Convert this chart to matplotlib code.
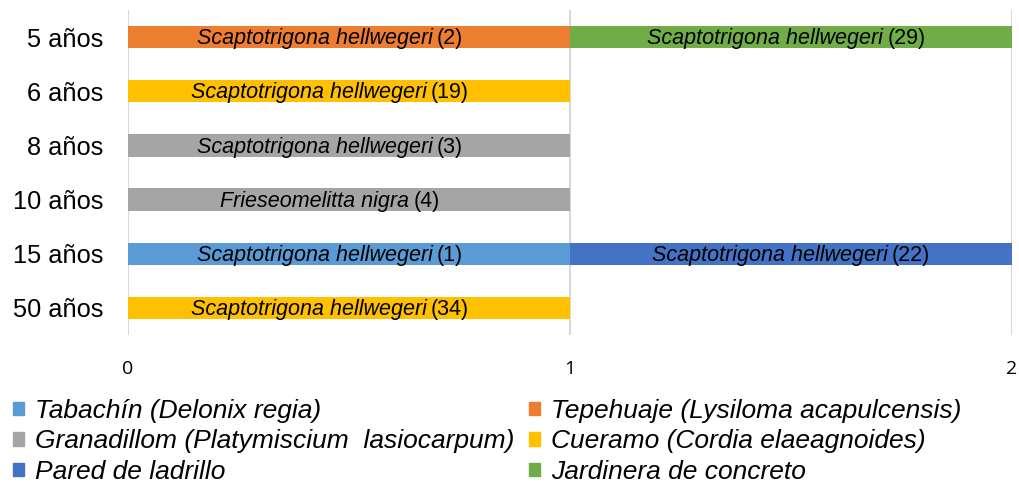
import matplotlib
matplotlib.use("Agg")
import matplotlib.pyplot as plt
from matplotlib.offsetbox import TextArea, HPacker, AnnotationBbox
from matplotlib.patches import Patch
import numpy as np

categories = ["5 años", "6 años", "8 años", "10 años", "15 años", "50 años"]
series_names = ["Tabachín (Delonix regia)", "Tepehuaje (Lysiloma acapulcensis)",
                "Granadillom (Platymiscium  lasiocarpum)", "Cueramo (Cordia elaeagnoides)",
                "Pared de ladrillo", "Jardinera de concreto"]
tabachin = [0, 0, 0, 0, 1, 0]
tepehuaje = [1, 0, 0, 0, 0, 0]
granadillom = [0, 0, 1, 1, 0, 0]
cueramo = [0, 1, 0, 0, 0, 1]
pared = [0, 0, 0, 0, 1, 0]
jardinera = [1, 0, 0, 0, 0, 0]
series_values = [tabachin, tepehuaje, granadillom, cueramo, pared, jardinera]
colors = ["#5B9BD5", "#ED7D31", "#A5A5A5", "#FFC000", "#4472C4", "#70AD47"]

# labels per (series index, category index): species, count
label_species = {
    (1, 0): "Scaptotrigona hellwegeri", (5, 0): "Scaptotrigona hellwegeri",
    (3, 1): "Scaptotrigona hellwegeri", (2, 2): "Scaptotrigona hellwegeri",
    (2, 3): "Frieseomelitta nigra", (0, 4): "Scaptotrigona hellwegeri",
    (4, 4): "Scaptotrigona hellwegeri", (3, 5): "Scaptotrigona hellwegeri",
}
label_counts = {
    (1, 0): 2, (5, 0): 29, (3, 1): 19, (2, 2): 3,
    (2, 3): 4, (0, 4): 1, (4, 4): 22, (3, 5): 34,
}
# horizontal position of label within bar (fraction of bar width)
label_pos = {
    (1, 0): 0.457, (5, 0): 0.49, (3, 1): 0.457, (2, 2): 0.457,
    (2, 3): 0.457, (0, 4): 0.457, (4, 4): 0.5, (3, 5): 0.457,
}

W, H = 1019, 491
fig = plt.figure(figsize=(W / 100, H / 100), dpi=100)
ax = fig.add_axes([128 / W, 1 - 335 / H, (1012 - 128) / W, (335 - 10) / H])

font = "Liberation Sans"
y = np.arange(len(categories))
left = np.zeros(len(categories))
bars = []
for vals, col in zip(series_values, colors):
    vals = np.array(vals, dtype=float)
    b = ax.barh(y, vals, left=left, height=0.41, color=col, zorder=2)
    bars.append((b, left.copy(), vals))
    left = left + vals

for (si, ci), sp in label_species.items():
    b, lft, vals = bars[si]
    xc = lft[ci] + vals[ci] * label_pos[(si, ci)]
    t1 = TextArea(sp, textprops=dict(fontstyle="italic", fontsize=15.5, family=font, color="#000000"))
    t2 = TextArea(f"({label_counts[(si, ci)]})", textprops=dict(fontsize=15.5, family=font, color="#000000"))
    pk = HPacker(children=[t1, t2], sep=3, pad=0, align="baseline")
    ab = AnnotationBbox(pk, (xc, y[ci]), xycoords="data", frameon=False,
                        box_alignment=(0.5, 0.58), pad=0, zorder=3)
    ax.add_artist(ab)

ax.set_xlim(0, 2)
ax.set_ylim(len(categories) - 0.5, -0.5)
ax.set_xticks([0, 1, 2])
ax.set_yticks(y)
ax.set_yticklabels(categories, fontsize=18.3, family=font, color="#000000")
ax.tick_params(axis="y", length=0, pad=18)
ax.tick_params(axis="x", length=0, pad=18, labelsize=14, colors="#000000")
for lab in ax.get_xticklabels():
    lab.set_family("Open Sans")
ax.grid(axis="x", color="#D9D9D9", linewidth=1.5, zorder=0)
for s in ax.spines.values():
    s.set_visible(False)

handles = [Patch(color=c) for c in colors]
leg_kw = dict(frameon=False, handlelength=0.4, handleheight=0.4, handletextpad=0.45,
              labelspacing=0.24, borderpad=0, borderaxespad=0,
              prop=dict(family=font, style="italic", size=19))
l1 = fig.legend([handles[i] for i in (0, 2, 4)], [series_names[i] for i in (0, 2, 4)],
                loc="upper left", bbox_to_anchor=(13 / W, 1 - 399 / H), **leg_kw)
l2 = fig.legend([handles[i] for i in (1, 3, 5)], [series_names[i] for i in (1, 3, 5)],
                loc="upper left", bbox_to_anchor=(529 / W, 1 - 399 / H), **leg_kw)

fig.savefig("out.png", dpi=100)
